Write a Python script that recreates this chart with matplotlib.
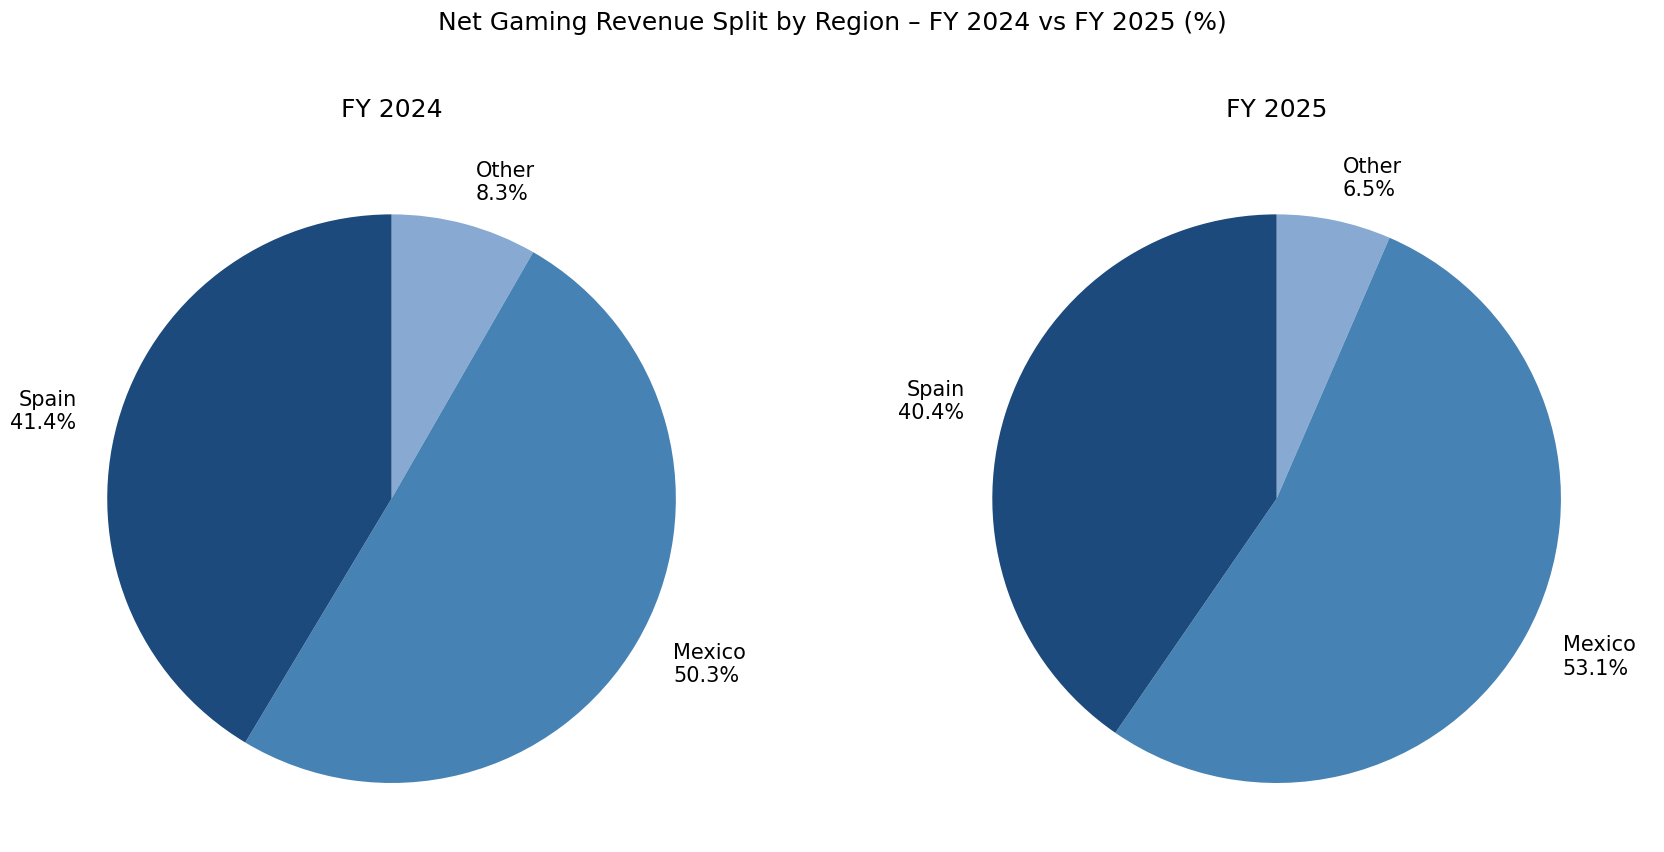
import matplotlib.pyplot as plt

# ===============================
# data
# ===============================
regions = ["Other", "Mexico", "Spain"]
fy2024 = [8.3, 50.3, 41.4]
fy2025 = [6.5, 53.1, 40.4]
colors = ["#88aad2", "#4682b4", "#1c4a7c"]

fig = plt.figure(figsize=(16.64, 8.52), dpi=100)

# pie placement (figure fractions): centre x, centre y, radius in x and y
centres_x = [0.2353, 0.7672]
cy = 0.4147
rw = 0.1709
rh = 0.3337

for cx, vals, title in zip(centres_x, [fy2024, fy2025], ["FY 2024", "FY 2025"]):
    ax = fig.add_axes([cx - 1.25 * rw, cy - 1.25 * rh, 2.5 * rw, 2.5 * rh])
    labels = [f"{r}\n{v:.1f}%" for r, v in zip(regions, vals)]
    ax.pie(vals, labels=labels, colors=colors, startangle=90,
           counterclock=False, labeldistance=1.15,
           textprops={"fontsize": 15})
    ax.set_title(title, fontsize=18, pad=0, y=1.037)

fig.suptitle("Net Gaming Revenue Split by Region \u2013 FY 2024 vs FY 2025 (%)",
             fontsize=18, y=0.987)
plt.savefig("out.png")
